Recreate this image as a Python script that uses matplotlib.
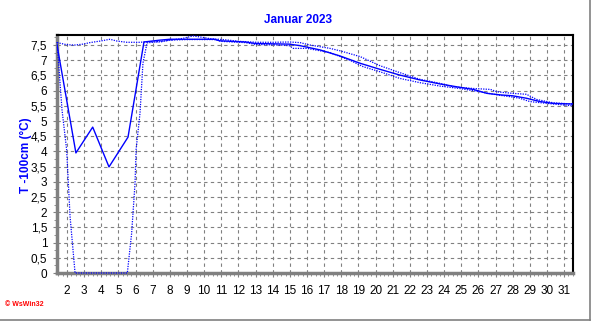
import numpy as np
import matplotlib.pyplot as plt
from matplotlib.ticker import MultipleLocator

# Tageswerte (Tag des Monats, Temperatur in 100 cm Tiefe)
mean_day = [1.42, 2.52, 3.5, 4.45, 5.56, 6.49, 7.4, 8.0, 10.6, 10.9, 12.4, 13.0,
            14.96, 15.59, 16.76, 17.93, 19.1, 20.26, 21.43, 22.6, 23.76, 24.9,
            25.7, 26.5, 27.26, 28.0, 28.8, 29.6, 30.36, 31.5]
mean_val = [7.5, 3.95, 4.8, 3.49, 4.47, 7.6, 7.66, 7.69, 7.69, 7.64, 7.6, 7.55,
            7.53, 7.48, 7.34, 7.14, 6.9, 6.7, 6.51, 6.35, 6.22, 6.11,
            6.04, 5.91, 5.86, 5.83, 5.75, 5.64, 5.58, 5.56]

max_day = [1.42, 1.99, 2.47, 2.93, 3.34, 3.93, 4.51, 4.92, 5.5, 6.26, 6.67, 7.43,
           8.0, 8.77, 9.35, 9.94, 10.34, 11.1, 12.1, 13.07, 14.0, 15.0, 15.59,
           16.18, 17.34, 17.93, 19.1, 20.26, 21.43, 22.6, 23.76, 24.5, 25.7,
           26.7, 27.1, 28.0, 28.8, 29.4, 30.36, 31.5]
max_val = [7.58, 7.51, 7.5, 7.53, 7.58, 7.63, 7.69, 7.63, 7.59, 7.59, 7.61, 7.6,
           7.66, 7.72, 7.8, 7.75, 7.71, 7.68, 7.62, 7.59, 7.59, 7.6, 7.58,
           7.5, 7.39, 7.31, 7.12, 6.82, 6.59, 6.37, 6.24, 6.13, 6.07,
           6.04, 5.96, 5.91, 5.88, 5.71, 5.6, 5.56]

min_day = [1.42, 1.71, 1.98, 2.18, 2.47, 5.52, 5.77, 5.97, 6.03, 6.26, 6.43, 6.67,
           7.4, 8.0, 9.0, 10.6, 11.0, 12.4, 13.0, 14.3, 14.96, 15.2, 16.0,
           17.34, 18.5, 19.27, 20.26, 21.43, 22.6, 23.76, 24.9, 26.1, 27.1,
           27.85, 28.4, 29.0, 30.0, 31.5]
min_val = [7.6, 5.36, 4.05, 1.85, 0.0, 0.0, 1.3, 2.96, 4.05, 5.26, 6.9, 7.57,
           7.62, 7.66, 7.68, 7.68, 7.62, 7.58, 7.52, 7.5, 7.48, 7.39, 7.39,
           7.25, 7.0, 6.79, 6.62, 6.4, 6.26, 6.15, 6.07, 5.96, 5.86,
           5.8, 5.75, 5.64, 5.58, 5.5]

days = list(range(2, 32))
yticks = np.arange(0, 8, 0.5)

blue = '#0000ff'
gray = '#808080'

fig = plt.figure(figsize=(5.92, 3.21), dpi=100)
ax = fig.add_axes([57/592, 48/321, 516/592, 238/321])

ax.plot(mean_day, mean_val, color=blue, lw=1.0, zorder=3)
ax.plot(max_day, max_val, color=blue, lw=0.9, ls=(0, (1, 1)), zorder=3)
ax.plot(min_day, min_val, color=blue, lw=0.9, ls=(0, (1, 1)), zorder=3,
        clip_on=False)

ax.set_xlim(1.417, 31.52)
ax.set_ylim(0, 7.83)
ax.set_xticks(days)
ax.set_xticklabels([str(d) for d in days])
ax.set_yticks(yticks)
ax.set_yticklabels([('%g' % v).replace('.', ',') for v in yticks])
ax.xaxis.set_minor_locator(MultipleLocator(0.25))
ax.yaxis.set_minor_locator(MultipleLocator(0.25))

ax.grid(True, which='major', color=gray, ls=(0, (3, 3)), lw=0.8)
ax.tick_params(axis='both', which='major', direction='out', length=3, color=gray,
               labelsize=8.5, pad=4)
ax.tick_params(axis='both', which='minor', direction='out', length=2, color=gray)
ax.tick_params(axis='x', pad=6)

for side in ['left', 'bottom']:
    ax.spines[side].set_color(gray)
    ax.spines[side].set_linewidth(2.5)
for side in ['top', 'right']:
    ax.spines[side].set_color('black')
    ax.spines[side].set_linewidth(1.5)

for lab in ax.get_xticklabels() + ax.get_yticklabels():
    lab.set_family('Liberation Sans')

fig.text(298/592, 1 - 20/321, 'Januar 2023', color=blue, fontsize=8.5,
         fontweight='bold', ha='center', va='center', family='Liberation Sans')
fig.text(26/592, 1 - 155/321, 'T -100cm (°C)', color=blue, fontsize=8.5,
         fontweight='bold', rotation=90, ha='center', va='center',
         family='Liberation Sans')
fig.text(5/592, 1 - 305/321, '© WsWin32', color='red', fontsize=5,
         fontweight='bold', ha='left', va='center', family='Liberation Sans')

# grauer Rahmen rechts und unten
fig.add_artist(plt.Line2D([590/592, 590/592], [1/321, 1], color=gray, lw=1.2))
fig.add_artist(plt.Line2D([0, 590/592], [1.5/321, 1.5/321], color=gray, lw=1.2))

fig.savefig('out.png', dpi=100)
